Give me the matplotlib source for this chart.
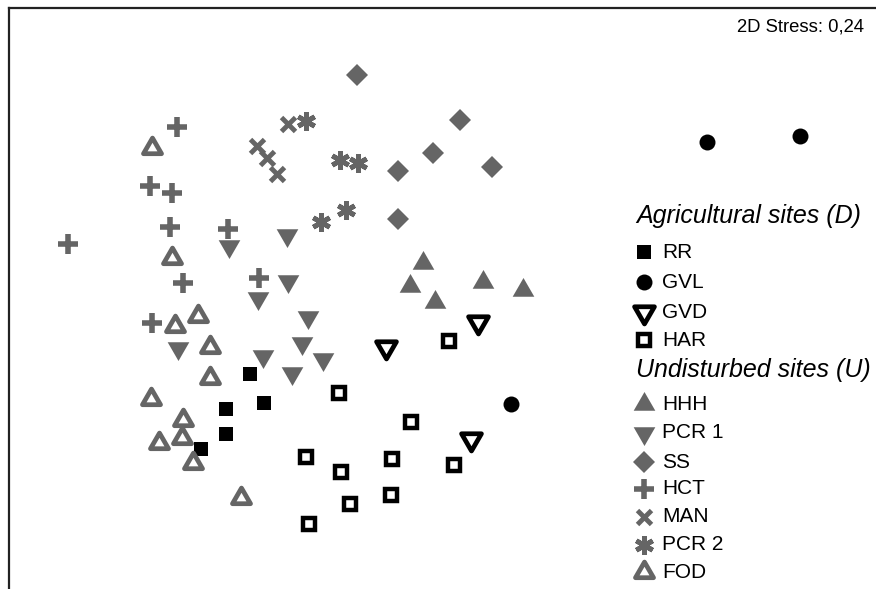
import matplotlib
matplotlib.use("Agg")
import matplotlib.pyplot as plt
from matplotlib.markers import MarkerStyle
from matplotlib.path import Path

# NMDS ordination scores (arbitrary units, MDS2 grows downward)
RR = [(250, 374), (264, 403), (226, 409), (226, 434), (201, 449)]
GVL = [(707, 142), (800, 136), (511, 404)]
GVD = [(386, 347), (478, 322), (471, 439)]
HAR = [(449, 341), (339, 393), (411, 422), (306, 457), (392, 459),
       (454, 465), (341, 472), (391, 495), (350, 504), (309, 524)]
HHH = [(423, 263), (410, 286), (435, 302), (483, 282), (523, 290)]
PCR1 = [(229, 246), (287, 235), (288, 281), (258, 298), (308, 317),
        (178, 348), (302, 343), (263, 356), (323, 359), (292, 373)]
SS = [(357, 75), (460, 120), (433, 153), (398, 171), (492, 167), (398, 219)]
HCT = [(177, 127), (150, 186), (172, 193), (170, 227), (68, 244),
       (228, 229), (183, 283), (152, 323), (259, 278)]
MAN = [(288, 124), (257, 146), (267, 158), (277, 174)]
PCR2 = [(306, 121), (340, 160), (358, 163), (321, 222), (346, 210)]
FOD = [(152, 148), (172, 258), (198, 316), (175, 326), (210, 347),
       (210, 378), (151, 399), (183, 420), (182, 438), (159, 443),
       (193, 463), (241, 498)]

STRESS = "2D Stress: 0,24"

GREY = "#656565"
BLACK = "#000000"

# equilateral triangles (matplotlib's ^ and v are taller than wide)
TRI_UP = Path([(0, 1), (-0.866, -0.5), (0.866, -0.5), (0, 1)], closed=True)
TRI_DOWN = Path([(0, -1), (-0.866, 0.5), (0.866, 0.5), (0, -1)], closed=True)


def sharp(m):
    return MarkerStyle(m, joinstyle="miter")


# style of each group: (label, points, marker kwargs)
GROUPS_D = [
    ("RR", RR, dict(marker="s", ms=10, color=BLACK, mew=0)),
    ("GVL", GVL, dict(marker="o", ms=11.5, color=BLACK, mew=0)),
    ("GVD", GVD, dict(marker=sharp(TRI_DOWN), ms=16.5, mfc="white", mec=BLACK,
                      mew=3.4)),
    ("HAR", HAR, dict(marker=sharp("s"), ms=9.3, mfc="white", mec=BLACK,
                      mew=3.2)),
]
GROUPS_U = [
    ("HHH", HHH, dict(marker=TRI_UP, ms=18, color=GREY, mew=0)),
    ("PCR 1", PCR1, dict(marker=TRI_DOWN, ms=18, color=GREY, mew=0)),
    ("SS", SS, dict(marker="D", ms=11, color=GREY, mew=0)),
    ("HCT", HCT, dict(marker="+", ms=14, mew=4, color=GREY)),
    ("MAN", MAN, dict(marker="x", ms=10, mew=3.5, color=GREY)),
    ("PCR 2", PCR2, dict(marker=(6, 2, 0), ms=13.5, mew=3.5, color=GREY)),
    ("FOD", FOD, dict(marker=sharp(TRI_UP), ms=15, mfc="white", mec=GREY,
                      mew=3.4)),
]

plt.rcParams["font.family"] = ["Liberation Sans", "DejaVu Sans"]

fig = plt.figure(figsize=(8.76, 5.89), dpi=100)
W, H = 876, 589
# the plot frame starts near the top-left corner and runs off the page
x0, x1, y0, y1 = 9, 895, 8, 610
ax = fig.add_axes([x0 / W, 1 - y1 / H, (x1 - x0) / W, (y1 - y0) / H])
ax.set_xlim(x0, x1)
ax.set_ylim(y1, y0)
ax.set_xticks([])
ax.set_yticks([])
for side in ax.spines.values():
    side.set_linewidth(1.6)
    side.set_color("#222222")

for _, pts, style in GROUPS_D + GROUPS_U:
    xs = [p[0] for p in pts]
    ys = [p[1] for p in pts]
    ax.plot(xs, ys, ls="none", **style)

ax.text(864, 27, STRESS, fontsize=13.3, ha="right", va="center")

# hand-built legend on the right side
LEG_MX, LEG_TX = 644, 662
ax.text(636, 216, "Agricultural sites (D)", fontsize=18, style="italic",
        va="center")
rows_d = [252, 282, 312, 340]
for (label, _, style), y in zip(GROUPS_D, rows_d):
    ax.plot([LEG_MX], [y], ls="none", **style)
    ax.text(LEG_TX, y, label, fontsize=15, va="center")
ax.text(636, 370, "Undisturbed sites (U)", fontsize=18, style="italic",
        va="center")
rows_u = [404, 433, 462, 489, 517, 545, 572]
for (label, _, style), y in zip(GROUPS_U, rows_u):
    ax.plot([LEG_MX], [y], ls="none", **style)
    ax.text(LEG_TX, y, label, fontsize=15, va="center")

fig.savefig("out.png", dpi=100)
